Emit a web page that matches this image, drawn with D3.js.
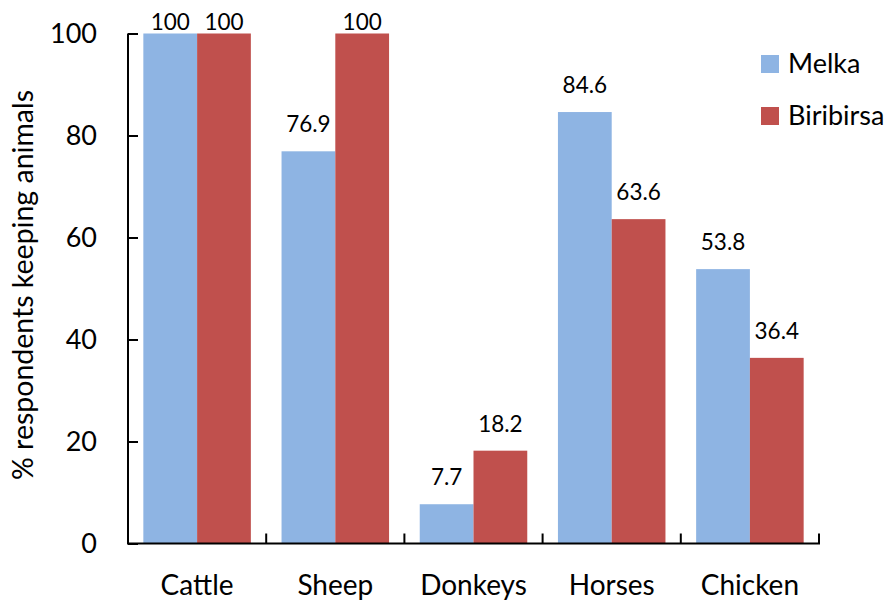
<!DOCTYPE html>
<html>
<head>
<meta charset="utf-8">
<script src="https://cdn.jsdelivr.net/npm/d3@7"></script>
<style>
  body { margin: 0; background: #fff; }
  text { font-family: Lato, "Open Sans", sans-serif; fill: #000; }
</style>
</head>
<body>
<div class="container"></div>
<script>
var categories = ['Cattle', 'Sheep', 'Donkeys', 'Horses', 'Chicken'],
	seriesNames = ['Melka', 'Biribirsa'],
	melka = [100, 76.9, 7.7, 84.6, 53.8],
	biribirsa = [100, 100, 18.2, 63.6, 36.4],
	yTicks = [0, 20, 40, 60, 80, 100];

var WIDTH = 895,
	HEIGHT = 601,
	LEFT = 128,
	TOP = 33.5,
	RIGHT = 819,
	BOTTOM = 543.5,
	COLORS = ['#8EB4E3', '#C0504D'];

function translate(x, y) {
	return 'translate(' + x + ',' + y + ')';
}

var rows = categories.map(function(c, i) {
	return {cat: c, values: [melka[i], biribirsa[i]]};
});

var svg = d3.select('.container').append('svg')
	.attr('width', WIDTH)
	.attr('height', HEIGHT);

var xScale = d3.scaleBand()
	.domain(categories)
	.range([LEFT, RIGHT])
	.paddingInner(0.222)
	.paddingOuter(0.111);

var x1 = d3.scaleBand()
	.domain(seriesNames)
	.range([0, xScale.bandwidth()]);

var yScale = d3.scaleLinear()
	.domain([0, 100])
	.range([BOTTOM, TOP]);

// bars
var groups = svg.selectAll('.grp')
	.data(rows).enter()
	.append('g')
	.attr('class', 'grp')
	.attr('transform', function(d) { return translate(xScale(d.cat), 0); });

groups.selectAll('rect')
	.data(function(d) { return d.values; }).enter()
	.append('rect')
	.attr('x', function(d, i) { return x1(seriesNames[i]); })
	.attr('y', function(d) { return yScale(d); })
	.attr('width', x1.bandwidth())
	.attr('height', function(d) { return BOTTOM - yScale(d); })
	.attr('fill', function(d, i) { return COLORS[i]; });

groups.selectAll('.lbl')
	.data(function(d) { return d.values; }).enter()
	.append('text')
	.attr('class', 'lbl')
	.attr('x', function(d, i) { return x1(seriesNames[i]) + x1.bandwidth() / 2; })
	.attr('y', function(d) { return Math.max(yScale(d) - 19, 30); })
	.attr('text-anchor', 'middle')
	.style('font-size', '22.5px')
	.text(function(d) { return d; });

// y axis, ticks inside
var yAxis = d3.axisRight(yScale)
	.tickValues(yTicks)
	.tickSize(10)
	.tickFormat('');

var yAxisGroup = svg.append('g')
	.attr('transform', translate(LEFT, 0))
	.call(yAxis);
yAxisGroup.select('.domain').attr('d', 'M0,' + TOP + 'V' + BOTTOM);
yAxisGroup.selectAll('line, path').attr('stroke', '#000').attr('stroke-width', 2);

svg.selectAll('.ytl')
	.data(yTicks).enter()
	.append('text')
	.attr('class', 'ytl')
	.attr('x', LEFT - 31)
	.attr('y', function(d) { return yScale(d); })
	.attr('dy', '0.36em')
	.attr('text-anchor', 'end')
	.style('font-size', '27px')
	.text(function(d) { return d; });

// x axis, ticks between categories pointing up
var boundaries = categories.map(function(c) { return xScale(c) - xScale.step() * xScale.paddingOuter(); });
boundaries.push(RIGHT);

var xAxisGroup = svg.append('g');
xAxisGroup.append('line')
	.attr('x1', LEFT - 1).attr('x2', RIGHT + 1)
	.attr('y1', BOTTOM).attr('y2', BOTTOM)
	.attr('stroke', '#000').attr('stroke-width', 2);
xAxisGroup.selectAll('.xt')
	.data(boundaries.slice(1)).enter()
	.append('line')
	.attr('x1', function(d) { return d; }).attr('x2', function(d) { return d; })
	.attr('y1', BOTTOM).attr('y2', BOTTOM - 10)
	.attr('stroke', '#000').attr('stroke-width', 2);

svg.selectAll('.xtl')
	.data(categories).enter()
	.append('text')
	.attr('class', 'xtl')
	.attr('x', function(d) { return xScale(d) + xScale.bandwidth() / 2; })
	.attr('y', 595)
	.attr('text-anchor', 'middle')
	.style('font-size', '28px')
	.text(function(d) { return d; });

// y title
svg.append('text')
	.attr('transform', translate(33, 285) + ' rotate(-90)')
	.attr('text-anchor', 'middle')
	.style('font-size', '28.5px')
	.text('% respondents keeping animals');

// legend
var legend = svg.selectAll('.leg')
	.data(seriesNames).enter()
	.append('g')
	.attr('class', 'leg')
	.attr('transform', function(d, i) { return translate(761, 55 + i * 52); });
legend.append('rect')
	.attr('width', 18).attr('height', 18)
	.attr('fill', function(d, i) { return COLORS[i]; });
legend.append('text')
	.attr('x', 27).attr('y', 18)
	.style('font-size', '27px')
	.text(function(d) { return d; });
</script>
</body>
</html>
